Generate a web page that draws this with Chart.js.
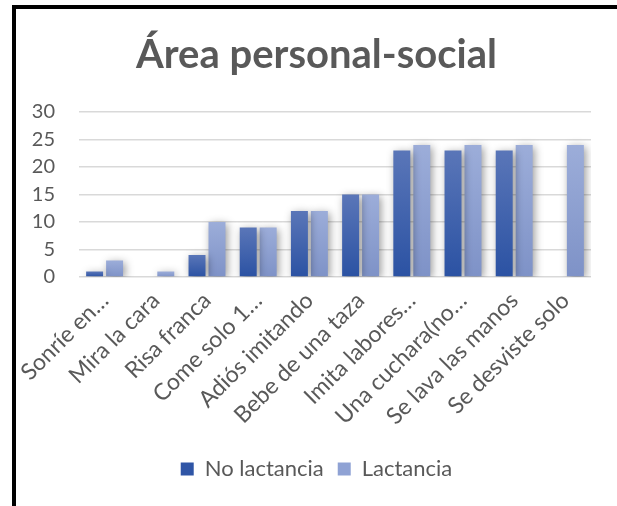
<!DOCTYPE html>
<html>
<head>
<meta charset="utf-8">
<script src="https://cdn.jsdelivr.net/npm/chart.js@4.4.0/dist/chart.umd.min.js"></script>
<style>
  html, body { margin: 0; padding: 0; background: #fff; }
  #frame {
    position: absolute; left: 12px; top: 5px; width: 605px; height: 501px;
    border-left: 4px solid #000; border-top: 4px solid #000;
  }
  #wrap { position: absolute; left: 16px; top: 9px; width: 601px; height: 497px; }
</style>
</head>
<body>
<div id="frame"></div>
<div id="wrap"><canvas id="myChart"></canvas></div>
<script>
const categories = [
  "Sonríe en…", "Mira la cara", "Risa franca", "Come solo 1…", "Adiós imitando",
  "Bebe de una taza", "Imita labores…", "Una cuchara(no…", "Se lava las manos", "Se desviste solo"
];
const noLactancia = [1, 0, 4, 9, 12, 15, 23, 23, 23, 0];
const lactancia = [3, 1, 10, 9, 12, 15, 24, 24, 24, 24];
const yTicks = [0, 5, 10, 15, 20, 25, 30];

const FONT = "Lato";

// vertical gradient per bar, lighter at the top
function barGradient(top, bottom) {
  return (ctx) => {
    const chart = ctx.chart;
    const yScale = chart.scales.y;
    if (!chart.chartArea || !yScale || ctx.type !== "data") return bottom;
    const y0 = yScale.getPixelForValue(0);
    const y1 = yScale.getPixelForValue(ctx.raw);
    if (!isFinite(y0) || !isFinite(y1) || y0 === y1) return bottom;
    const g = chart.ctx.createLinearGradient(0, y1, 0, y0);
    g.addColorStop(0, top);
    g.addColorStop(1, bottom);
    return g;
  };
}

const barShadow = {
  id: "barShadow",
  beforeDatasetsDraw(chart) {
    const c = chart.ctx;
    c.save();
    c.shadowColor = "rgba(0,0,0,0.4)";
    c.shadowBlur = 8;
    c.shadowOffsetX = 2;
    c.shadowOffsetY = 2;
  },
  afterDatasetsDraw(chart) {
    chart.ctx.restore();
  }
};

const ctx = document.getElementById("myChart").getContext("2d");

new Chart(ctx, {
  type: "bar",
  data: {
    labels: categories,
    datasets: [
      {
        label: "No lactancia",
        data: noLactancia,
        backgroundColor: barGradient("#5a76b8", "#2b52a3"),
        categoryPercentage: 0.78,
        barPercentage: 0.85
      },
      {
        label: "Lactancia",
        data: lactancia,
        backgroundColor: barGradient("#9cadd9", "#7e92c7"),
        categoryPercentage: 0.78,
        barPercentage: 0.85
      }
    ]
  },
  options: {
    responsive: true,
    maintainAspectRatio: false,
    animation: false,
    layout: { padding: { left: 0, right: 0, top: 0, bottom: 16 } },
    plugins: {
      title: {
        display: true,
        text: "Área personal-social",
        color: "#595959",
        font: { family: FONT, size: 40, weight: "bold" },
        padding: { top: 22, bottom: 33 }
      },
      legend: {
        position: "bottom",
        labels: {
          color: "#595959",
          font: { family: FONT, size: 22 },
          boxWidth: 13,
          boxHeight: 13,
          padding: 14,
          generateLabels: () => [
            { text: "No lactancia", fillStyle: "#2f55a6", strokeStyle: "#2f55a6", lineWidth: 0, datasetIndex: 0, fontColor: "#595959" },
            { text: "Lactancia", fillStyle: "#8fa2d4", strokeStyle: "#8fa2d4", lineWidth: 0, datasetIndex: 1, fontColor: "#595959" }
          ]
        }
      },
      tooltip: { enabled: false }
    },
    scales: {
      x: {
        grid: { display: false },
        border: { display: false },
        afterFit: (scale) => { scale.height = 167; },
        ticks: {
          color: "#595959",
          font: { family: FONT, size: 23 },
          maxRotation: 45,
          minRotation: 45,
          autoSkip: false,
          padding: 2
        }
      },
      y: {
        min: 0,
        max: 30,
        afterBuildTicks: (scale) => {
          scale.ticks = yTicks.map((v) => ({ value: v }));
        },
        afterFit: (scale) => { scale.width = 63; },
        grid: { color: "#d9d9d9", lineWidth: 1.5, drawTicks: false },
        border: { display: false },
        ticks: {
          color: "#595959",
          font: { family: FONT, size: 20 },
          padding: 24
        }
      },
      // empty right-hand gutter so the title and legend stay centred on the frame
      gutter: {
        type: "linear",
        position: "right",
        grid: { display: false },
        border: { display: false },
        ticks: { display: false },
        afterFit: (scale) => { scale.width = 26; }
      }
    }
  },
  plugins: [barShadow]
});
</script>
</body>
</html>
